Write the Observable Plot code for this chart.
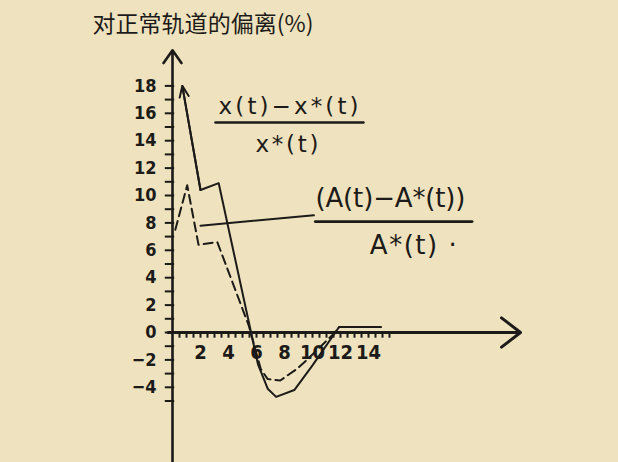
<!DOCTYPE html>
<html>
<head>
<meta charset="utf-8">
<script src="https://cdn.jsdelivr.net/npm/d3@7"></script>
<script src="https://cdn.jsdelivr.net/npm/@observablehq/plot@0.6"></script>
<style>
html, body { margin: 0; padding: 0; background: #efe2be; }
#page { position: relative; width: 618px; height: 462px; overflow: hidden; background: #efe2be; }
#chart { position: absolute; left: 0; top: 0; }
</style>
</head>
<body>
<div id="page">
  <div id="chart"></div>
</div>
<script>
// ---- data (t = time, v = deviation in %) ----
const solidT  = [0.7, 2.0, 3.3, 6.1, 6.8, 7.4, 8.7, 10.0, 11.9, 14.9];
const solidV  = [18.0, 10.4, 10.9, -2.3, -4.1, -4.7, -4.2, -2.4, 0.4, 0.4];
const dashedT = [0.2, 1.05, 1.86, 3.2, 5.45, 6.3, 6.8, 7.7, 8.9, 9.6, 11.5, 11.9];
const dashedV = [7.5, 10.75, 6.4, 6.6, 0.5, -2.65, -3.4, -3.5, -2.65, -2.0, -0.1, 0.4];
const xTickLabels = [2, 4, 6, 8, 10, 12, 14];
const yTickLabels = [18, 16, 14, 12, 10, 8, 6, 4, 2, 0, -2, -4];
const xMinorTicks = d3.range(0.5, 15.51, 0.5);
const yMinorTicks = d3.range(-5, 18.01, 1);

const titleText = "对正常轨道的偏离(%)";
const labelXNum = "x(t)−x*(t)";
const labelXDen = "x*(t)";
const labelANum = "(A(t)−A*(t))";
const labelADen = "A*(t) ·";

// ---- layout ----
const W = 618, H = 462;
const ink = "#1c1b19";
const originPx = {x: 172, y: 332};
const unitPx = {x: 14, y: 13.7};
const xDomain = [-originPx.x / unitPx.x, (W - originPx.x) / unitPx.x];
const yDomain = [(originPx.y - H) / unitPx.y, originPx.y / unitPx.y];

const solid = solidT.map((t, i) => ({t, v: solidV[i]}));
const dashed = dashedT.map((t, i) => ({t, v: dashedV[i]}));
const leader = [{t: 2.0, v: 7.8}, {t: 10.1, v: 8.55}];
const barX = [{t: 3.07, v: 15.33}, {t: 13.64, v: 15.33}];
const barA = [{t: 10.2, v: 8.1}, {t: 21.4, v: 8.1}];

const fmt = d => (d < 0 ? "−" + Math.abs(d) : String(d));
const tickFont = "'Liberation Sans Narrow', 'DejaVu Sans Condensed', sans-serif";
const mathFont = "'DejaVu Sans', sans-serif";

const svg = Plot.plot({
  width: W, height: H, margin: 0,
  x: {domain: xDomain, axis: null},
  y: {domain: yDomain, axis: null},
  style: {background: "transparent", color: ink, overflow: "visible"},
  marks: [
    // axes
    Plot.arrow([0], {x1: 0, y1: yDomain[0], x2: 0, y2: 20.6, stroke: ink, strokeWidth: 2.6, headLength: 9, headAngle: 70}),
    Plot.arrow([0], {x1: -0.3, y1: 0, x2: 24.86, y2: 0, stroke: ink, strokeWidth: 3, headLength: 12, headAngle: 75}),
    Plot.link(yMinorTicks, {x1: -0.55, x2: 0.12, y1: d => d, y2: d => d, stroke: ink, strokeWidth: 2}),
    Plot.link(xMinorTicks, {x1: d => d, x2: d => d, y1: 0, y2: -0.38, stroke: ink, strokeWidth: 2}),
    Plot.text(yTickLabels, {x: 0, y: d => d, text: fmt, dx: -16, textAnchor: "end",
      fontFamily: tickFont, fontSize: 18, fontWeight: "bold", fill: ink}),
    Plot.text(xTickLabels, {x: d => d, y: 0, text: fmt, dy: 20,
      fontFamily: tickFont, fontSize: 20, fontWeight: "bold", fill: ink}),
    // series
    Plot.line(solid, {x: "t", y: "v", stroke: ink, strokeWidth: 2}),
    Plot.arrow(solid.slice(0, 2), {x1: () => solidT[1], y1: () => solidV[1], x2: () => solidT[0], y2: () => solidV[0],
      filter: (d, i) => i === 0, stroke: ink, strokeWidth: 2, headLength: 9, headAngle: 45}),
    Plot.line(dashed, {x: "t", y: "v", stroke: ink, strokeWidth: 2, strokeDasharray: "9,5"}),
    // annotations
    Plot.line(leader, {x: "t", y: "v", stroke: ink, strokeWidth: 2}),
    Plot.line(barX, {x: "t", y: "v", stroke: ink, strokeWidth: 2.5}),
    Plot.line(barA, {x: "t", y: "v", stroke: ink, strokeWidth: 2.8}),
    Plot.text([labelXNum], {x: 8.29, y: 16.5, text: d => d, fontFamily: mathFont, fontSize: 23, fill: ink}),
    Plot.text([labelXDen], {x: 8.18, y: 13.72, text: d => d, fontFamily: mathFont, fontSize: 23, fill: ink}),
    Plot.text([labelANum], {x: 15.57, y: 9.78, text: d => d, fontFamily: mathFont, fontSize: 26, fill: ink}),
    Plot.text([labelADen], {x: 17.2, y: 6.35, text: d => d, fontFamily: mathFont, fontSize: 26, fill: ink}),
    Plot.text([titleText], {x: (92 - originPx.x) / unitPx.x, y: (originPx.y - 24) / unitPx.y, text: d => d,
      textAnchor: "start", fontFamily: "'Noto Sans CJK SC', sans-serif", fontSize: 23, fill: ink})
  ]
});

const fitWidths = new Map([[titleText, 221], [labelXNum, 140], [labelXDen, 63], [labelANum, 150], [labelADen, 87]]);
svg.querySelectorAll("text").forEach(el => {
  const w = fitWidths.get(el.textContent);
  if (w) { el.setAttribute("textLength", w); el.setAttribute("lengthAdjust", "spacing"); }
});
document.getElementById("chart").appendChild(svg);
</script>
</body>
</html>
